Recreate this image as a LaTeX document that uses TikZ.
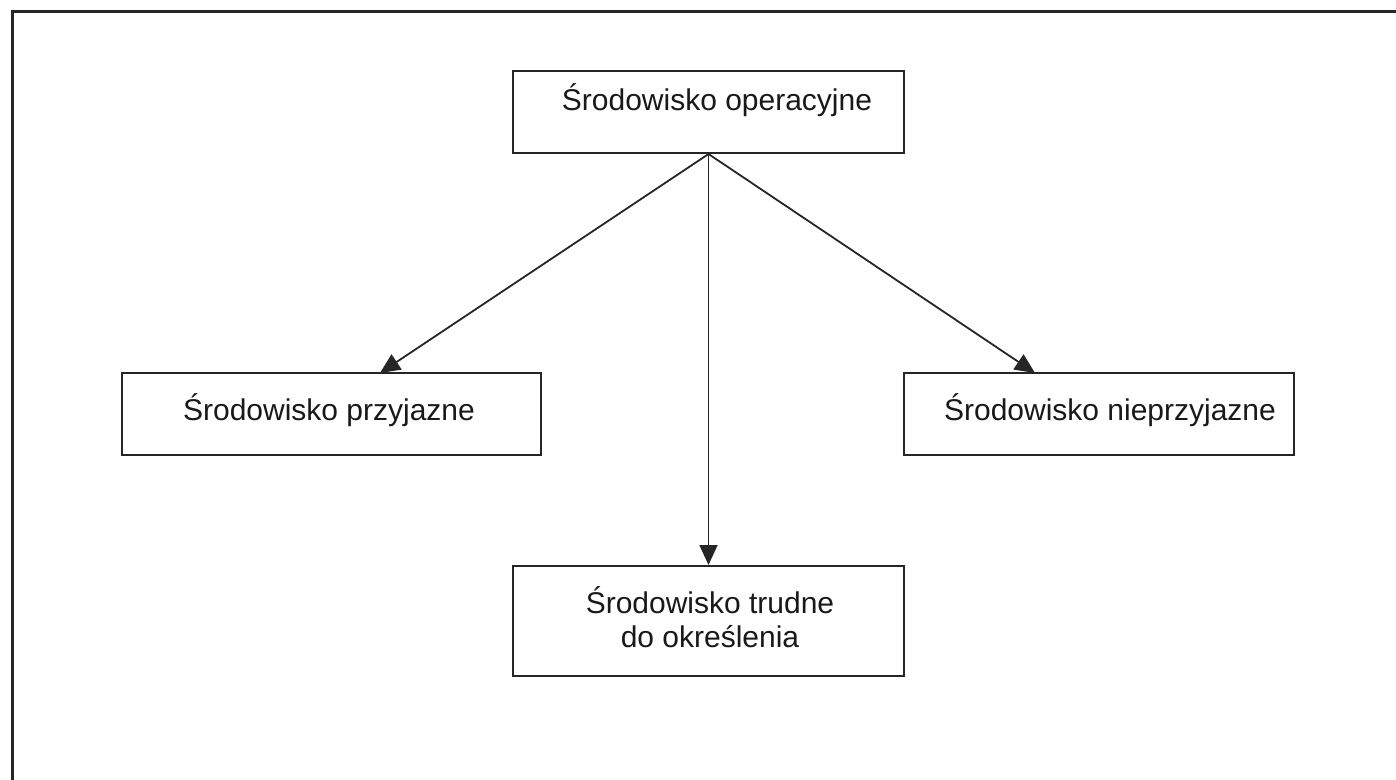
\documentclass[tikz,border=0pt]{standalone}
\usepackage{fontspec}
\setmainfont{Liberation Sans}
\usetikzlibrary{arrows.meta}
\begin{document}
\begin{tikzpicture}[x=0.5pt,y=-0.5pt,
  box/.style={draw=black!85, line width=1pt, rectangle, inner sep=0pt},
  lbl/.style={text=black!90, font=\fontsize{15}{17}\selectfont, align=center, inner sep=0pt},
  link/.style={draw=black!85, line width=0.9pt, -{Triangle[length=10pt,width=9pt]}}]
  % page and outer frame (only its top and left sides fall on the page)
  \clip (0,0) rectangle (1396,780);
  \useasboundingbox (0,0) rectangle (1396,780);
  \draw[line width=1.5pt, black!85] (1420,12) -- (12,12) -- (12,800);

  % boxes
  \node[box, minimum width=195.5pt, minimum height=41pt] (op) at (708.5,112) {};
  \node[box, minimum width=209.5pt, minimum height=41pt] (pz) at (331.5,414) {};
  \node[box, minimum width=195pt, minimum height=41pt] (np) at (1099,414) {};
  \node[box, minimum width=195.5pt, minimum height=55pt] (tr) at (708.5,621) {};

  % labels
  \node[lbl] (opl) at (717,100) {Środowisko operacyjne};
  \node[lbl] (pzl) at (329,410) {Środowisko przyjazne};
  \node[lbl] (npl) at (1110,410) {Środowisko nieprzyjazne};
  \node[lbl] (trl) at (710,617) {Środowisko trudne\\do określenia};

  % arrow targets on the box tops
  \coordinate (pzin) at (380,373);
  \coordinate (npin) at (1035,373);

  % connectors
  \draw[link] (op.south) -- (pzin);
  \draw[link] (op.south) -- (tr.north);
  \draw[link] (op.south) -- (npin);
\end{tikzpicture}
\end{document}
